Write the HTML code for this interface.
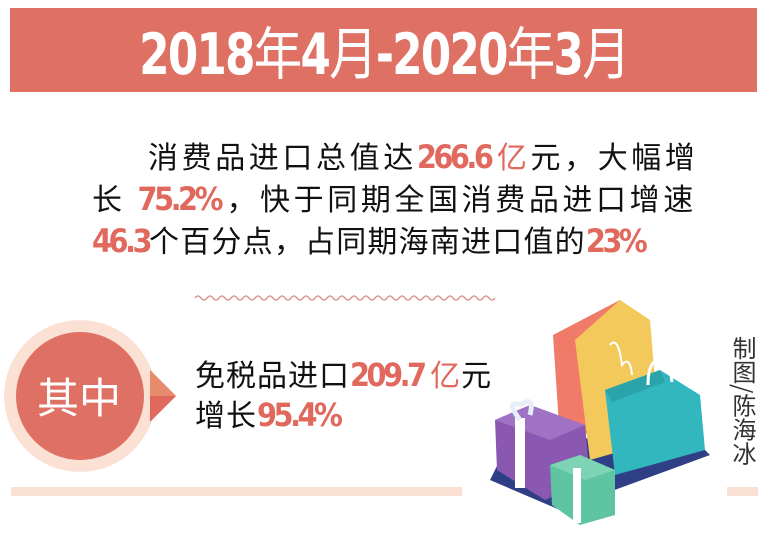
<!DOCTYPE html>
<html><head><meta charset="utf-8"><style>
body{margin:0;width:768px;height:545px;background:#fff;position:relative;overflow:hidden;font-family:"Liberation Sans","Noto Sans CJK SC",sans-serif;}
.abs{position:absolute;white-space:nowrap;}
.num{font-family:"DejaVu Sans Condensed","Liberation Sans Narrow","Liberation Sans",sans-serif;font-weight:bold;color:#e0685c;letter-spacing:-3.5px;font-size:32px;}
.t{font-size:30px;color:#111;line-height:42px;letter-spacing:3.6px;}
</style></head><body>
<div class="abs" style="left:10px;top:8px;width:747px;height:84px;background:#df7064;"></div>
<div class="abs" style="left:0;width:768px;top:16px;text-align:center;color:#fff;font-size:57px;font-weight:bold;line-height:68px;font-family:'DejaVu Sans Condensed','Liberation Sans','Noto Sans CJK SC',sans-serif;letter-spacing:-2px;"><span style="display:inline-block;transform:scaleX(0.85)">2018<span style="font-family:'Noto Sans CJK SC';font-weight:normal">年</span>4<span style="font-family:'Noto Sans CJK SC';font-weight:normal">月</span>-2020<span style="font-family:'Noto Sans CJK SC';font-weight:normal">年</span>3<span style="font-family:'Noto Sans CJK SC';font-weight:normal">月</span></span></div>

<div class="abs t" style="left:148px;top:136px;">消费品进口总值达<span class="num">266.6 </span><span style="color:#e0685c">亿</span>元，大幅增</div>
<div class="abs t" style="left:92px;top:178px;">长 <span class="num">75.2% </span>，快于同期全国消费品进口增速</div>
<div class="abs t" style="left:92px;top:220px;letter-spacing:1.2px;"><span class="num">46.3</span>个百分点，占同期海南进口值的<span class="num">23%</span></div>

<svg class="abs" style="left:0;top:0" width="768" height="545">
<path d="M195 298 q3 -4 6 0 t6 0 t6 0 t6 0 t6 0 t6 0 t6 0 t6 0 t6 0 t6 0 t6 0 t6 0 t6 0 t6 0 t6 0 t6 0 t6 0 t6 0 t6 0 t6 0 t6 0 t6 0 t6 0 t6 0 t6 0 t6 0 t6 0 t6 0 t6 0 t6 0 t6 0 t6 0 t6 0 t6 0 t6 0 t6 0 t6 0 t6 0 t6 0 t6 0 t6 0 t6 0 t6 0 t6 0 t6 0 t6 0 t6 0 t6 0 t6 0 t6 0" fill="none" stroke="#d98a80" stroke-width="1.3"/>
<circle cx="80" cy="396" r="76" fill="#fbe1d3"/>
<polygon points="150,370 176,396 150,422" fill="#e0685c"/>
<polygon points="150,370 176,396 150,396" fill="#e88a6c"/>
<circle cx="80" cy="396" r="64" fill="#df7064"/>
<rect x="11" y="487" width="451" height="9" fill="#fbe1d3"/>
<rect x="727" y="487" width="31" height="9" fill="#fbe1d3"/>
<polygon points="490,480 560,510 710,455 700,445 620,430 500,460" fill="#2f3f86"/>
<polygon points="553,335 620,300 650,330 645,420 560,440" fill="#ef7b68"/>
<polygon points="575,340 620,300 650,320 660,440 590,460" fill="#f2c95a"/>
<polygon points="605,390 660,370 700,395 705,450 615,475" fill="#33b7be"/>
<polygon points="605,390 660,370 665,382 612,402" fill="#2ba3ab"/>
<path d="M648 385 q0 -25 12 -25 q10 0 12 22" fill="none" stroke="#fff" stroke-width="3"/>
<path d="M610 345 q8 -10 12 20 q8 -10 10 10" fill="none" stroke="#fff" stroke-width="2"/>
<polygon points="495,420 530,405 585,425 590,480 545,500 497,470" fill="#8a58b0"/>
<polygon points="495,420 530,405 585,425 550,440" fill="#a072c4"/>
<rect x="515" y="418" width="10" height="70" fill="#fff"/>
<path d="M520 420 q-15 -20 0 -15 q15 -10 10 10" fill="none" stroke="#e8eef8" stroke-width="5"/>
<polygon points="550,465 580,455 615,470 615,515 580,525 552,505" fill="#5fc4a2"/>
<polygon points="550,465 580,455 615,470 585,480" fill="#7cd4b5"/>
<rect x="573" y="468" width="8" height="55" fill="#fff"/>
</svg>
<div class="abs" style="left:37px;top:372px;color:#fff;font-size:42px;line-height:48px;font-family:'Noto Sans CJK SC',sans-serif;">其中</div>
<div class="abs t" style="left:195px;top:354px;letter-spacing:1px;">免税品进口<span class="num">209.7 </span><span style="color:#e0685c">亿</span>元</div>
<div class="abs t" style="left:195px;top:394px;letter-spacing:1px;">增长<span class="num">95.4%</span></div>
<div class="abs" style="left:729px;top:336px;height:145px;font-size:24px;line-height:30px;color:#333;writing-mode:vertical-rl;font-family:'Noto Sans CJK SC',sans-serif;">制图/陈海冰</div>
</body></html>
